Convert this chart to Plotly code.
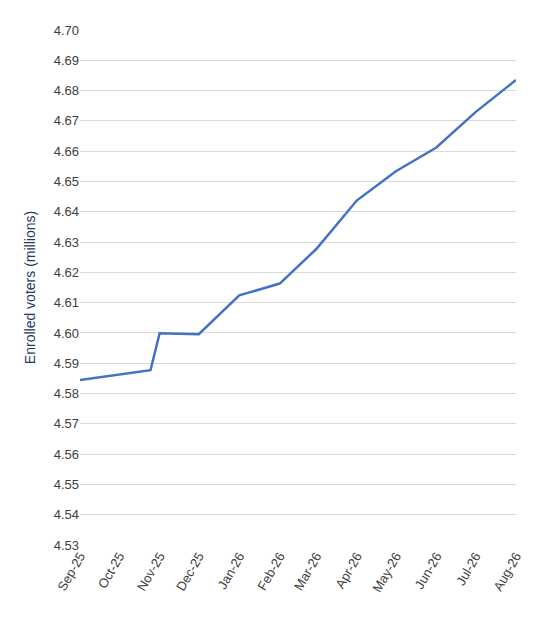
import plotly.graph_objects as go

dates = ["2025-09-01", "2025-10-25", "2025-11-01", "2025-12-01", "2026-01-01", "2026-02-01",
         "2026-03-01", "2026-04-01", "2026-05-01", "2026-06-01", "2026-07-01", "2026-08-01"]
voters = [4.5845, 4.5877, 4.5999, 4.5996, 4.6124, 4.6163, 4.6277, 4.6437, 4.6534, 4.6612, 4.6729, 4.6835]
tick_vals = ["2025-09-01", "2025-10-01", "2025-11-01", "2025-12-01", "2026-01-01", "2026-02-01",
             "2026-03-01", "2026-04-01", "2026-05-01", "2026-06-01", "2026-07-01", "2026-08-01"]
tick_text = ["Sep-25", "Oct-25", "Nov-25", "Dec-25", "Jan-26", "Feb-26",
             "Mar-26", "Apr-26", "May-26", "Jun-26", "Jul-26", "Aug-26"]

fig = go.Figure(go.Scatter(x=dates, y=voters, mode="lines",
                           line=dict(color="#4472C4", width=2.5)))
fig.update_layout(
    width=546, height=624, margin=dict(l=72, r=38, t=22, b=87),
    plot_bgcolor="white", paper_bgcolor="white", showlegend=False,
    font=dict(family="Liberation Sans", size=13, color="#404040"),
)
fig.update_xaxes(type="date", range=["2025-09-01", "2026-08-01"], tickvals=tick_vals,
                 ticktext=tick_text, tickangle=-60, showgrid=False, showline=False,
                 ticks="", zeroline=False)
fig.update_yaxes(range=[4.53, 4.70], dtick=0.01, tickformat=".2f", showgrid=True,
                 gridcolor="#D9D9D9", zeroline=False, showline=False,
                 title=dict(text="Enrolled voters (millions)", font=dict(color="#1F3864", size=14), standoff=14))
fig.write_html("out.html")
